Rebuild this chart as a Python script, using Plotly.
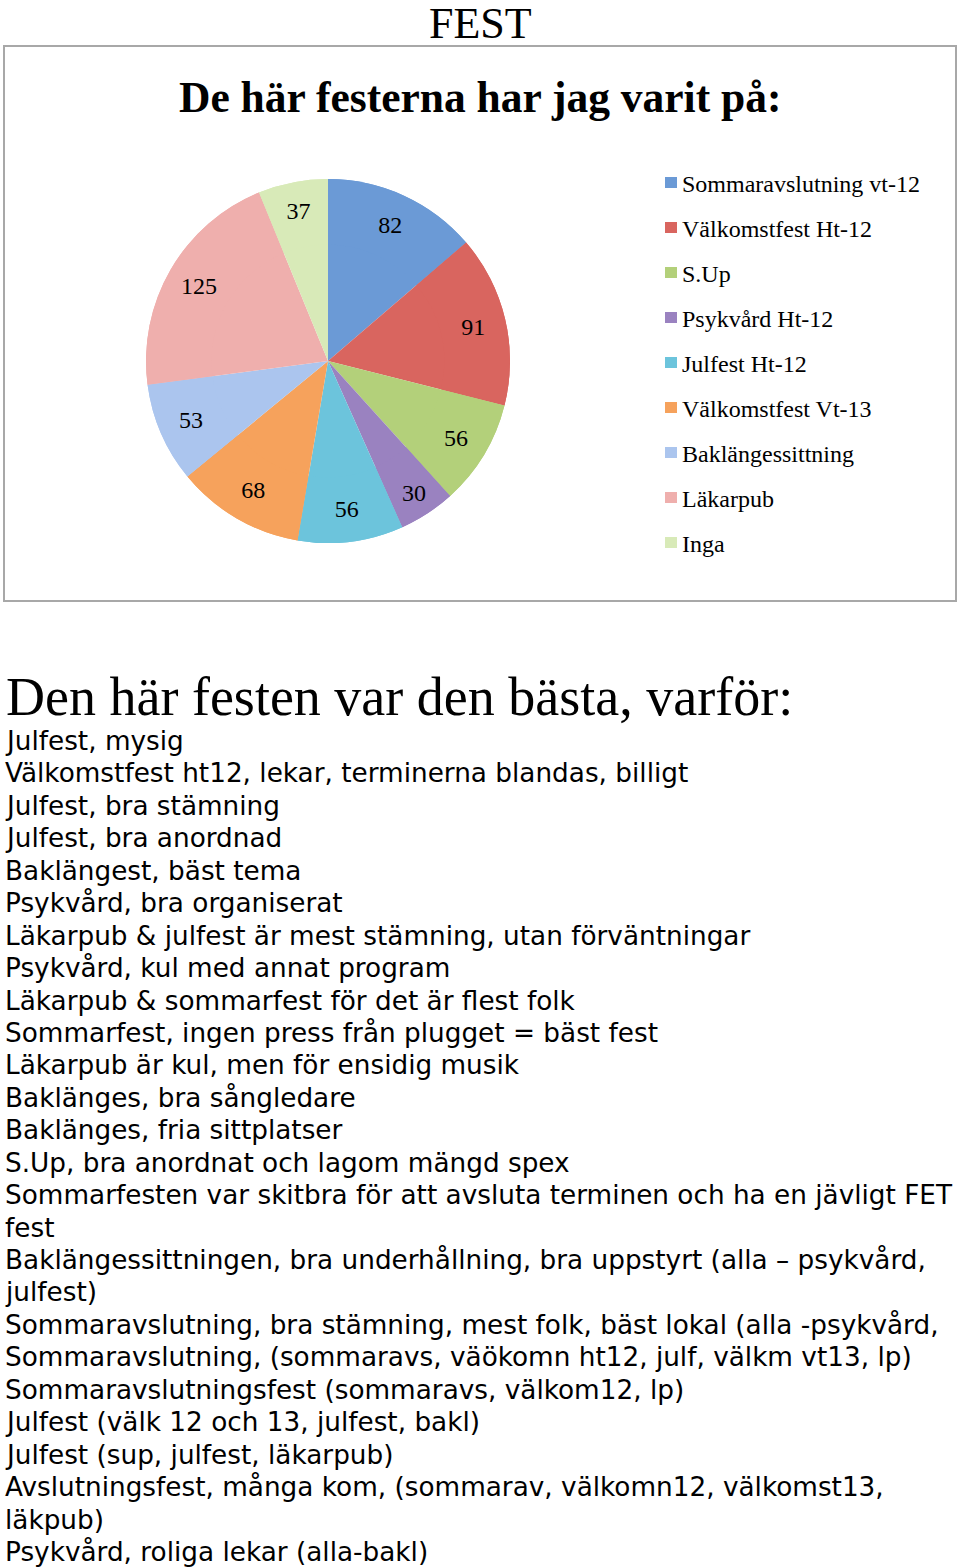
import plotly.graph_objects as go

W, H = 960, 1568

# data
fester = ["Sommaravslutning vt-12", "Välkomstfest Ht-12", "S.Up", "Psykvård Ht-12",
          "Julfest Ht-12", "Välkomstfest Vt-13", "Baklängessittning", "Läkarpub", "Inga"]
antal = [82, 91, 56, 30, 56, 68, 53, 125, 37]
farger = ["#6b9ad6", "#d9655f", "#b3d07a", "#9a82c0", "#6cc4dc", "#f6a25c",
          "#abc5ee", "#efafad", "#d8eab8"]

svar = [
    "Julfest, mysig",
    "Välkomstfest ht12, lekar, terminerna blandas, billigt",
    "Julfest, bra stämning",
    "Julfest, bra anordnad",
    "Baklängest, bäst tema",
    "Psykvård, bra organiserat",
    "Läkarpub & julfest är mest stämning, utan förväntningar",
    "Psykvård, kul med annat program",
    "Läkarpub & sommarfest för det är flest folk",
    "Sommarfest, ingen press från plugget = bäst fest",
    "Läkarpub är kul, men för ensidig musik",
    "Baklänges, bra sångledare",
    "Baklänges, fria sittplatser",
    "S.Up, bra anordnat och lagom mängd spex",
    "Sommarfesten var skitbra för att avsluta terminen och ha en jävligt FET",
    "fest",
    "Baklängessittningen, bra underhållning, bra uppstyrt (alla – psykvård,",
    "julfest)",
    "Sommaravslutning, bra stämning, mest folk, bäst lokal (alla -psykvård,",
    "Sommaravslutning, (sommaravs, väökomn ht12, julf, välkm vt13, lp)",
    "Sommaravslutningsfest (sommaravs, välkom12, lp)",
    "Julfest (välk 12 och 13, julfest, bakl)",
    "Julfest (sup, julfest, läkarpub)",
    "Avslutningsfest, många kom, (sommarav, välkomn12, välkomst13,",
    "läkpub)",
    "Psykvård, roliga lekar (alla-bakl)",
]


def px(x):
    return x / W


def py(y):
    return 1 - y / H


serif = "Liberation Serif, DejaVu Serif, serif"
sans = "DejaVu Sans, sans-serif"

cx, cy, r = 328, 361, 182
pie_domain = dict(x=[px(cx - r), px(cx + r)], y=[py(cy + r), py(cy - r)])

fig = go.Figure()
# hel paj under
fig.add_trace(go.Pie(
    labels=fester, values=antal, sort=False, direction="clockwise", rotation=0,
    marker=dict(colors=farger, line=dict(width=0)),
    textinfo="none", domain=pie_domain, showlegend=False, hoverinfo="skip",
))
# ring ovanpå, bara för att lägga siffrorna längre ut
fig.add_trace(go.Pie(
    labels=fester, values=antal, sort=False, direction="clockwise", rotation=0,
    hole=0.64,
    marker=dict(colors=farger, line=dict(width=0)),
    textinfo="value",
    textposition="inside",
    insidetextorientation="horizontal",
    textfont=dict(family=serif, size=24, color="black"),
    domain=pie_domain,
    showlegend=False,
))

shapes = [dict(type="rect", xref="paper", yref="paper",
               x0=px(4), x1=px(956), y0=py(601), y1=py(46),
               line=dict(color="#a8a8a8", width=2), fillcolor="rgba(0,0,0,0)")]
annotations = [
    dict(text="FEST", x=0.5, y=py(24), xref="paper", yref="paper", showarrow=False,
         yanchor="middle", font=dict(family=serif, size=44, color="black")),
    dict(text="<b>De här festerna har jag varit på:</b>", x=0.5, y=py(97),
         xref="paper", yref="paper", showarrow=False, yanchor="middle",
         font=dict(family=serif, size=43.5, color="black")),
    dict(text="Den här festen var den bästa, varför:", x=px(4), y=py(697),
         xref="paper", yref="paper", xanchor="left", yanchor="middle", showarrow=False,
         font=dict(family=serif, size=54, color="black")),
]

# legend
for i, (namn, farg) in enumerate(zip(fester, farger)):
    yy = 183 + 45 * i
    shapes.append(dict(type="rect", xref="paper", yref="paper",
                       x0=px(665), x1=px(677), y0=py(yy + 5), y1=py(yy - 6),
                       line=dict(width=0), fillcolor=farg))
    annotations.append(dict(text=namn, x=px(680), y=py(yy + 1), xref="paper", yref="paper",
                            xanchor="left", yanchor="middle", showarrow=False,
                            font=dict(family=serif, size=24, color="black")))

# svar
for i, rad in enumerate(svar):
    annotations.append(dict(text=rad, x=px(3), y=py(741 + 32.44 * i), xref="paper",
                            yref="paper", xanchor="left", yanchor="middle", showarrow=False,
                            font=dict(family=sans, size=26.3, color="black")))

fig.update_layout(
    width=W, height=H,
    margin=dict(l=0, r=0, t=0, b=0),
    paper_bgcolor="white",
    plot_bgcolor="white",
    shapes=shapes,
    annotations=annotations,
)

fig.write_html("out.html", config={"displayModeBar": False},
               post_script="document.body.style.margin='0';")
